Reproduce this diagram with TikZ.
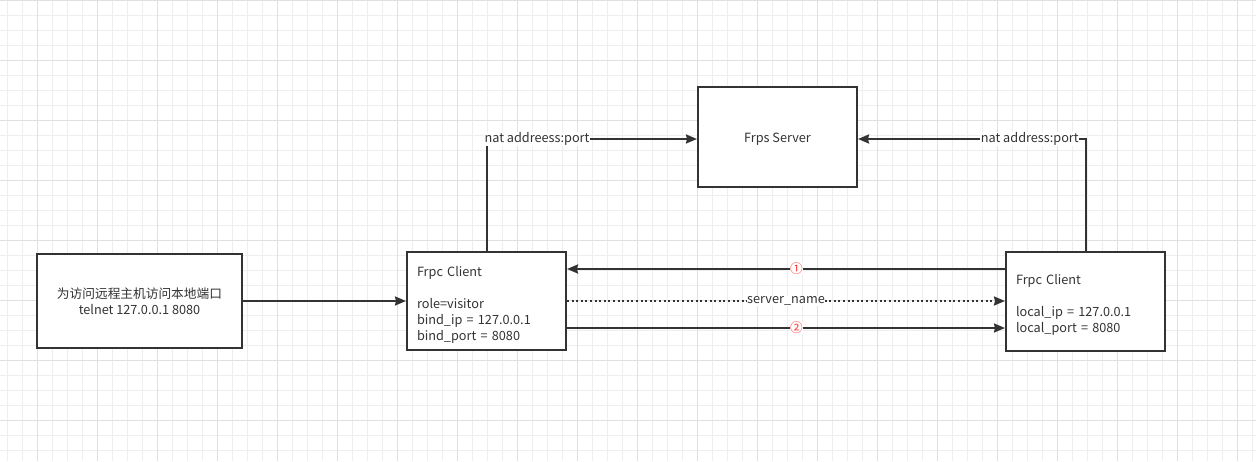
\documentclass[tikz,border=0pt]{standalone}
\usepackage{fontspec}
\setmainfont{Noto Sans CJK SC}
\usetikzlibrary{arrows.meta,positioning}
\definecolor{lc}{HTML}{333333}
\definecolor{gminor}{HTML}{EEEEEE}
\definecolor{gmajor}{HTML}{E0E0E0}
\definecolor{numred}{HTML}{FF3333}
\tikzset{
  box/.style={draw=lc, line width=2pt, fill=white, text=lc, font=\fontsize{12.7}{16}\selectfont, inner sep=0pt},
  conn/.style={draw=lc, line width=2pt, -{Stealth[length=11pt,width=9pt,inset=1pt]}},
  dots/.style={conn, dash pattern=on 2pt off 2.6pt},
  lbl/.style={fill=white, text=lc, inner sep=0.5pt, font=\fontsize{12.7}{15}\selectfont},
  num/.style={fill=white, text=numred, inner sep=0.5pt, font=\fontsize{12.7}{15}\selectfont},
}
\begin{document}
\begin{tikzpicture}[x=1pt,y=-1pt]
\useasboundingbox (0,0) rectangle (1256,461);
\fill[white] (0,0) rectangle (1256,461);
% grid
\foreach \gx in {7,22,...,1256} {\draw[gminor, line width=1pt] (\gx,0) -- (\gx,461);}
\foreach \gy in {15,30,...,461} {\draw[gminor, line width=1pt] (0,\gy) -- (1256,\gy);}
\foreach \gx in {37,97,...,1256} {\draw[gmajor, line width=1pt] (\gx,0) -- (\gx,461);}
\foreach \gy in {0,60,...,461} {\draw[gmajor, line width=1pt] (0,\gy) -- (1256,\gy);}

% nodes
\node[box, minimum width=205pt, minimum height=94pt, align=center] (src) at (139.5,301) {为访问远程主机访问本地端口\\telnet 127.0.0.1 8080};
\node[box, minimum width=159pt, minimum height=98pt, text width=139pt, align=left] (vis) at (486.5,301) {\rule{0pt}{17pt}Frpc Client\\[16pt]role=visitor\\bind\_ip = 127.0.0.1\\bind\_port = 8080};
\node[box, minimum width=159pt, minimum height=99pt, text width=139pt, align=left] (prov) at (1085.5,301.5) {\rule{0pt}{17pt}Frpc Client\\[16pt]local\_ip = 127.0.0.1\\local\_port = 8080};
\node[box, minimum width=159pt, minimum height=100pt, align=center] (frps) at (777.5,137) {\rule{0pt}{13pt}Frps Server};

% helper coordinates
\coordinate (y1) at (0,269);
\coordinate (y2) at (0,301);
\coordinate (y3) at (0,328);
\coordinate (ytop) at (0,139);

% connectors
\draw[conn] (src.east |- y2) -- (vis.west |- y2);
\draw[conn] (vis.north) -- (vis.north |- ytop) -- node[lbl, pos=0.24] {nat addreess:port} (frps.west |- ytop);
\draw[conn] (prov.north) -- (prov.north |- ytop) -- node[lbl, pos=0.245] {nat address:port} (frps.east |- ytop);
\draw[conn] (prov.west |- y1) -- node[num, pos=0.476] {①} (vis.east |- y1);
\draw[dots] (vis.east |- y2) -- node[lbl, pos=0.5] {server\_name} (prov.west |- y2);
\draw[conn] (vis.east |- y3) -- node[num, pos=0.524] {②} (prov.west |- y3);
\end{tikzpicture}
\end{document}
